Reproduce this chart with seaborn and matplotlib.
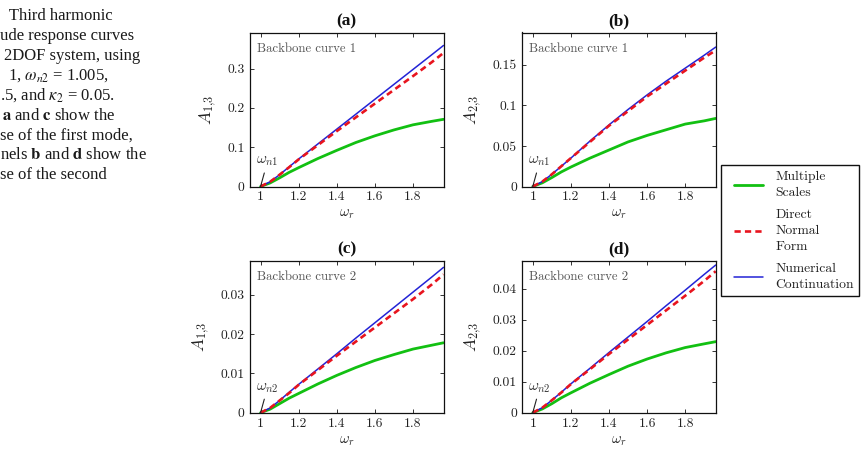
import matplotlib
matplotlib.use("Agg")
import matplotlib.pyplot as plt
import seaborn as sns
from matplotlib.lines import Line2D
from matplotlib.patches import Rectangle
from matplotlib.ticker import FixedLocator, FixedFormatter

# ---------------- data ----------------
omega = [1.0, 1.05, 1.1, 1.15, 1.2, 1.3, 1.4, 1.5, 1.6, 1.7, 1.8, 1.9, 1.96]

# panel (a): A_{1,3}, backbone curve 1
ms_a = [0, 0.009, 0.022, 0.036, 0.048, 0.071, 0.092, 0.112, 0.129, 0.144, 0.157, 0.166, 0.171]
dnf_a = [0, 0.012, 0.030, 0.049, 0.069, 0.105, 0.141, 0.176, 0.211, 0.246, 0.281, 0.317, 0.340]
num_a = [0, 0.012, 0.030, 0.050, 0.070, 0.108, 0.146, 0.184, 0.222, 0.260, 0.298, 0.336, 0.359]

# panel (b): A_{2,3}, backbone curve 1
ms_b = [0, 0.0045, 0.011, 0.018, 0.024, 0.035, 0.045, 0.055, 0.063, 0.070, 0.077, 0.081, 0.084]
dnf_b = [0, 0.006, 0.015, 0.025, 0.035, 0.055, 0.075, 0.093, 0.111, 0.127, 0.143, 0.159, 0.168]
num_b = [0, 0.006, 0.015, 0.025, 0.035, 0.056, 0.076, 0.095, 0.113, 0.130, 0.146, 0.162, 0.172]

# panel (c): A_{1,3}, backbone curve 2
ms_c = [0, 0.0009, 0.0023, 0.0037, 0.0049, 0.0073, 0.0095, 0.0115, 0.0133, 0.0148, 0.0162, 0.0172, 0.0178]
dnf_c = [0, 0.0012, 0.0031, 0.0050, 0.0071, 0.0108, 0.0145, 0.0181, 0.0217, 0.0253, 0.0289, 0.0327, 0.0352]
num_c = [0, 0.0012, 0.0031, 0.0052, 0.0072, 0.0111, 0.0150, 0.0190, 0.0229, 0.0268, 0.0307, 0.0346, 0.0370]

# panel (d): A_{2,3}, backbone curve 2
ms_d = [0, 0.0012, 0.0029, 0.0048, 0.0064, 0.0095, 0.0123, 0.0150, 0.0173, 0.0193, 0.0210, 0.0222, 0.0229]
dnf_d = [0, 0.0016, 0.0040, 0.0065, 0.0092, 0.0140, 0.0189, 0.0236, 0.0283, 0.0330, 0.0377, 0.0425, 0.0456]
num_d = [0, 0.0016, 0.0040, 0.0066, 0.0093, 0.0143, 0.0194, 0.0244, 0.0294, 0.0345, 0.0395, 0.0446, 0.0476]

panel_titles = ["(a)", "(b)", "(c)", "(d)"]
panel_notes = ["Backbone curve 1", "Backbone curve 1", "Backbone curve 2", "Backbone curve 2"]
ylabels = [r"$A_{1{,}3}$", r"$A_{2{,}3}$", r"$A_{1{,}3}$", r"$A_{2{,}3}$"]
xlabel = r"$\omega_r$"
mode_labels = [r"$\omega_{n1}$", r"$\omega_{n1}$", r"$\omega_{n2}$", r"$\omega_{n2}$"]

xticks = [1, 1.2, 1.4, 1.6, 1.8]
xtick_labels = ["1", "1.2", "1.4", "1.6", "1.8"]
yticks = [[0, 0.1, 0.2, 0.3], [0, 0.05, 0.1, 0.15], [0, 0.01, 0.02, 0.03], [0, 0.01, 0.02, 0.03, 0.04]]
ytick_labels = [["0", "0.1", "0.2", "0.3"], ["0", "0.05", "0.1", "0.15"],
                ["0", "0.01", "0.02", "0.03"], ["0", "0.01", "0.02", "0.03", "0.04"]]
ytops = [0.392, 0.19, 0.0387, 0.049]

legend_labels = ["Multiple\nScales", "Direct\nNormal\nForm", "Numerical\nContinuation"]

caption_lines = [
    " Third harmonic",
    "ude response curves",
    "2DOF system, using",
    r"1, $\omega_{n2}$ = 1.005,",
    r".5, and $\kappa_2$ = 0.05.",
    r"$\mathbf{a}$ and $\mathbf{c}$ show the",
    "se of the first mode,",
    r"nels $\mathbf{b}$ and $\mathbf{d}$ show the",
    "se of the second",
]
caption_x = [5, 0, 4, 8, 0, 2, 0, 0, 0]

# ---------------- style ----------------
sns.set_theme(style="ticks")
plt.rcParams["font.family"] = ["cmr10", "DejaVu Sans"]
plt.rcParams["mathtext.fontset"] = "cm"
plt.rcParams["axes.formatter.use_mathtext"] = True
plt.rcParams["axes.unicode_minus"] = False
plt.rcParams["lines.scale_dashes"] = False

GREEN = "#12c012"
RED = "#e8141e"
BLUE = "#2323d6"
TXT = "#222222"

W, H = 863, 454
fig = plt.figure(figsize=(W / 100, H / 100), dpi=100)

def fx(px):
    return px / W

def fy(py):
    return 1 - py / H

boxes = [  # left, top, right, bottom in pixels
    (249.5, 32.5, 443.5, 186.5),
    (521.7, 32.5, 715.7, 186.5),
    (249.5, 260.7, 443.5, 412.7),
    (521.7, 260.7, 715.7, 412.7),
]

series = [(ms_a, dnf_a, num_a), (ms_b, dnf_b, num_b), (ms_c, dnf_c, num_c), (ms_d, dnf_d, num_d)]

for i, (l, t, r, b) in enumerate(boxes):
    ax = fig.add_axes([fx(l), fy(b), (r - l) / W, (b - t) / H])
    ms, dnf, num = series[i]
    sns.lineplot(x=omega, y=ms, ax=ax, color=GREEN, lw=2.0, estimator=None, sort=False)
    sns.lineplot(x=omega, y=num, ax=ax, color=BLUE, lw=1.1, estimator=None, sort=False)
    sns.lineplot(x=omega, y=dnf, ax=ax, color=RED, lw=1.9, estimator=None, sort=False)
    ax.lines[-1].set_dashes([4.5, 3.0])

    ax.set_xlim(0.942, 1.96)
    ax.set_ylim(0, ytops[i])
    ax.xaxis.set_major_locator(FixedLocator(xticks))
    ax.xaxis.set_major_formatter(FixedFormatter(xtick_labels))
    ax.yaxis.set_major_locator(FixedLocator(yticks[i]))
    ax.yaxis.set_major_formatter(FixedFormatter(ytick_labels[i]))
    ax.tick_params(direction="in", top=True, right=True, length=3, width=0.7,
                   labelsize=9.8, labelcolor=TXT, color="#333333", pad=3.5)
    for s in ax.spines.values():
        s.set_color("#111111")
        s.set_linewidth(0.9)

    ax.set_xlabel(xlabel, fontsize=10.5, color=TXT, labelpad=3)
    ax.set_ylabel(ylabels[i], fontsize=12.5, color=TXT, labelpad=6)
    ax.set_title(panel_titles[i], fontsize=12.5, fontweight="bold",
                 family="Liberation Serif", pad=5, color="#111111")
    ax.text(0.04, 0.893, panel_notes[i], transform=ax.transAxes, fontsize=9.2,
            color="#555555", va="center", ha="left")
    ax.annotate(mode_labels[i], xy=(1.0, 0), xytext=(5.0, 18), textcoords="offset points",
                ha="center", va="center", fontsize=11, color="#333333",
                arrowprops=dict(arrowstyle="-", color="#222222", lw=0.8, shrinkA=1, shrinkB=0),
                annotation_clip=False)

# ---------------- legend ----------------
handles = [
    Line2D([], [], color=GREEN, lw=2.0),
    Line2D([], [], color=RED, lw=1.9, dashes=[4.5, 3.0]),
    Line2D([], [], color=BLUE, lw=1.1),
]
leg = fig.legend(handles, legend_labels, loc="upper left", bbox_to_anchor=(fx(734), fy(171)),
                 frameon=False, fontsize=9.8, handlelength=2.1, handletextpad=0.95,
                 labelspacing=0.72, borderaxespad=0, borderpad=0, labelcolor=TXT)
for t in leg.get_texts():
    t.set_linespacing(1.44)
fig.add_artist(Rectangle((fx(721), fy(295.7)), (859 - 721) / W, (295.7 - 165) / H,
                         transform=fig.transFigure, fill=False, edgecolor="#111111", lw=1.0))

# ---------------- clipped caption at the left edge ----------------
for k, line in enumerate(caption_lines):
    fig.text(fx(caption_x[k]), fy(20 + 19.9 * k), line, family="Liberation Serif",
             math_fontfamily="stix", fontsize=12, color="#1a1a1a", va="baseline", ha="left")

fig.savefig("out.png", dpi=100)
